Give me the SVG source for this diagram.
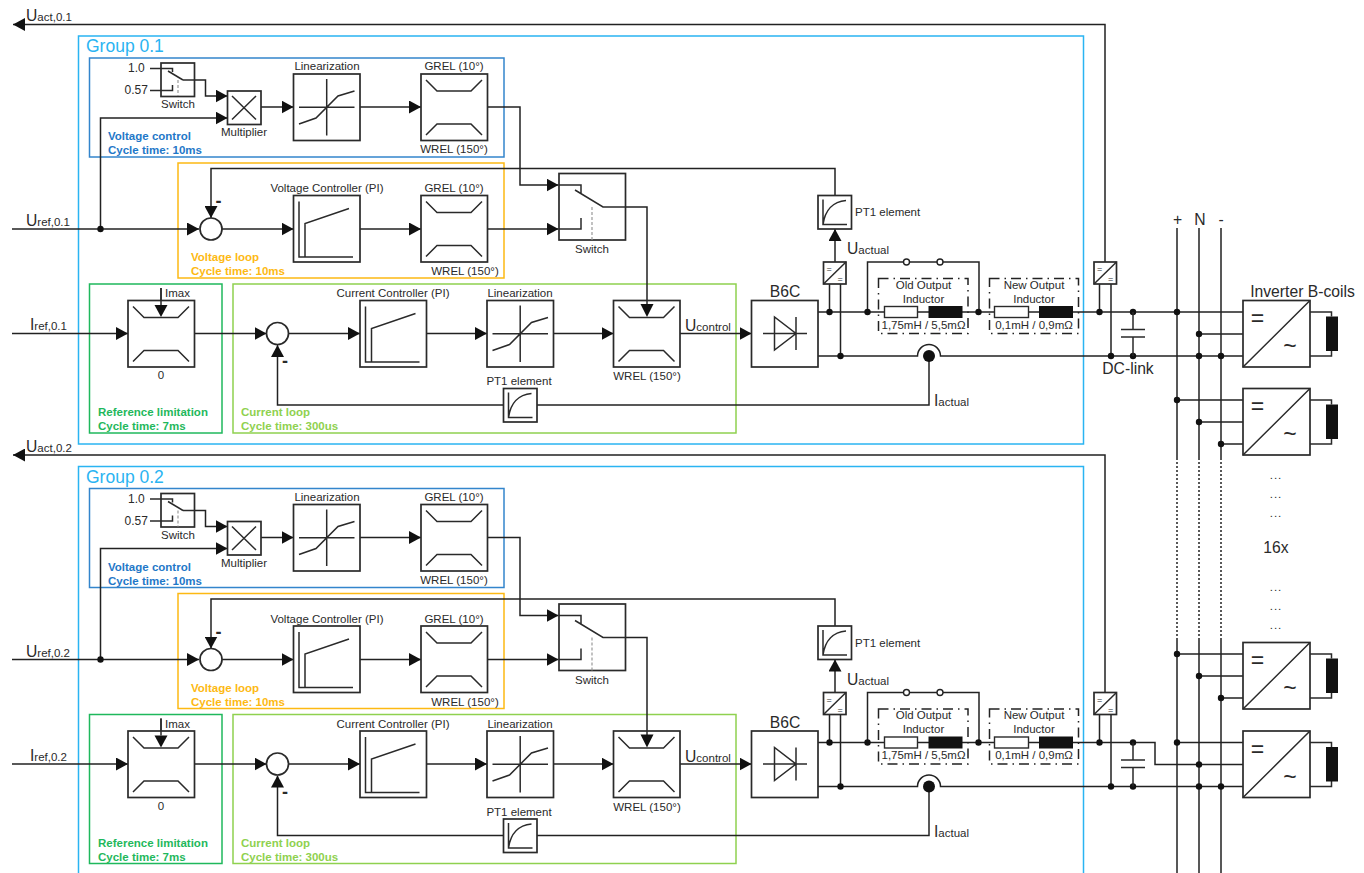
<svg xmlns="http://www.w3.org/2000/svg" width="1364" height="873" viewBox="0 0 1364 873">
<style>
text{font-family:"Liberation Sans",Arial,sans-serif;fill:#2a2a2a;font-size:11.5px}
.m{text-anchor:middle}
.s15{font-size:15.7px}
.s12{font-size:12px}
.sub{font-size:11.5px}
.grp{font-size:17.5px;fill:#2ab4f2}
.minus{font-weight:bold;font-size:18px}
.box{fill:#fff;stroke:#2a2a2a;stroke-width:1.7}
.ln{fill:none;stroke:#2a2a2a;stroke-width:1.5}
.frame{fill:none;stroke-width:1.5}
.w{fill:none;stroke:#222;stroke-width:1.5}
.a{marker-end:url(#arrow)}
.dot{fill:#111;stroke:none}
.open{fill:#fff;stroke:#222;stroke-width:1.4}
.dd{fill:none;stroke:#222;stroke-width:1.5;stroke-dasharray:10 5 1.5 5}
.gd{fill:none;stroke:#999;stroke-width:1.2;stroke-dasharray:3 2}
.vc{fill:#1f78c8;font-weight:bold}
.vl{fill:#fdb913;font-weight:bold}
.rl{fill:#1fb85c;font-weight:bold}
.cl{fill:#8fd14f;font-weight:bold}
.el{letter-spacing:1px}
</style>
<defs>
<marker id="arrow" markerUnits="userSpaceOnUse" markerWidth="12" markerHeight="13" refX="12" refY="6.5" orient="auto" viewBox="0 0 12 13"><path d="M0,0 L12,6.5 L0,13 Z" fill="#111"/></marker>
<g id="i-lim"><rect class="box" width="66.5" height="66.5"/><path class="ln" d="M5,6 L16,17 H50 L61,6 M5,61 L16,50 H50 L61,61"/></g>
<g id="i-lin"><rect class="box" width="66.5" height="66.5"/><path class="ln" d="M5.5,33.2 H61 M33.2,5 V61.5 M5.5,50 L22.5,44 L44.5,22 L61,17"/></g>
<g id="i-pi"><rect class="box" width="66.5" height="66.5"/><path class="ln" d="M5.5,6 V61.5 H59.5 M11.5,61.5 V28 L55.5,13"/></g>
<g id="i-pt1"><rect class="box" width="33.5" height="33.5"/><path class="ln" d="M5,4 V29 H29 M5,29 C7,15 15,6 28,5"/></g>
<g id="i-conv"><rect class="box" width="22.5" height="22"/><path class="ln" d="M0,22 L22.5,0"/><text x="3" y="10" style="font-size:9px">=</text><text x="14" y="20" style="font-size:9px">=</text></g>
<g id="i-inv"><rect class="box" width="67" height="66.5"/><path class="ln" d="M0,66.5 L67,0 M67,11.5 H88.5 V16 M88.5,50 V55.5 H67"/><rect x="83" y="16" width="12" height="34.5" fill="#111"/><text x="14.5" y="25.5" class="m" style="font-size:23px">=</text><text x="47" y="53.500" class="m" style="font-size:23px">~</text></g>
<g id="i-sw1"><rect class="box" width="33.5" height="33.5"/><path class="ln" d="M7,8 L22,17"/><path class="gd" d="M17,17 V33"/></g>
</defs>
<rect width="1364" height="873" fill="#fff"/>
<g id="frames">
<g id="group-0-1"><rect class="frame" x="78.5" y="36" width="1005" height="408" stroke="#2ab4f2"/><text class="grp" x="86" y="52">Group 0.1</text></g>
<g id="group-0-2"><rect class="frame" x="78.5" y="466.5" width="1005" height="408" stroke="#2ab4f2"/><text class="grp" x="86" y="482.5">Group 0.2</text></g>
<rect class="frame" x="89.5" y="58" width="414.5" height="99" stroke="#3385cc"/>
<rect class="frame" x="178" y="163" width="326" height="115" stroke="#fdb913"/>
<rect class="frame" x="89.5" y="284" width="132.5" height="149" stroke="#1fb85c"/>
<rect class="frame" x="233" y="284" width="503" height="149" stroke="#8fd14f"/>
<rect class="frame" x="89.5" y="488.500" width="414.5" height="99" stroke="#3385cc"/>
<rect class="frame" x="178" y="593.5" width="326" height="115" stroke="#fdb913"/>
<rect class="frame" x="89.5" y="714.5" width="132.5" height="149" stroke="#1fb85c"/>
<rect class="frame" x="233" y="714.5" width="503" height="149" stroke="#8fd14f"/>
<text class="vc" x="108" y="140">Voltage control</text><text class="vc" x="108" y="154">Cycle time: 10ms</text>
<text class="vl" x="191" y="261">Voltage loop</text><text class="vl" x="191" y="275">Cycle time: 10ms</text>
<text class="rl" x="98" y="416">Reference limitation</text><text class="rl" x="98" y="430">Cycle time: 7ms</text>
<text class="cl" x="241" y="416">Current loop</text><text class="cl" x="241" y="430">Cycle time: 300us</text>
<text class="vc" x="108" y="570.5">Voltage control</text><text class="vc" x="108" y="584.5">Cycle time: 10ms</text>
<text class="vl" x="191" y="691.5">Voltage loop</text><text class="vl" x="191" y="705.5">Cycle time: 10ms</text>
<text class="rl" x="98" y="846.5">Reference limitation</text><text class="rl" x="98" y="860.5">Cycle time: 7ms</text>
<text class="cl" x="241" y="846.5">Current loop</text><text class="cl" x="241" y="860.5">Cycle time: 300us</text>
</g>
<g id="connectors">
<g id="wires-0-1">
<path class="w a" d="M1105,262 V24.5 H13"/>
<path class="w a" d="M12,229 H199"/>
<path class="w a" d="M100.500,229 V118 H227.500"/>
<path class="w a" d="M183,80 H205.500 V96 H227.500"/>
<path class="w a" d="M261,107 H293.500"/>
<path class="w a" d="M360,107 H421"/>
<path class="w a" d="M487.500,107 H520 V185 H558.500"/>
<path class="w a" d="M835,195.500 V168.500 H211 V218"/>
<path class="w a" d="M222,229 H293.500"/>
<path class="w a" d="M360,229 H421"/>
<path class="w a" d="M487.500,229 H558.500"/>
<path class="w a" d="M603,207 H647 V317"/>
<path class="w a" d="M12,333.500 H128"/>
<path class="w a" d="M161,288 V317"/>
<path class="w a" d="M194.500,333.500 H266.500"/>
<path class="w a" d="M288.500,333.500 H360"/>
<path class="w a" d="M426.500,333.500 H487"/>
<path class="w a" d="M553.500,333.500 H613.500"/>
<path class="w a" d="M680,333.500 H751.500"/>
<path class="w a" d="M504,405 H277.500 V345"/>
<path class="w" d="M537,405 H929 V356"/>
<path class="w a" d="M835,262 V229"/>
<path class="w" d="M829.500,284 V312 M840.500,284 V356 M1099.500,284 V312 M1111,284 V356"/>
<path class="w" d="M818,312 H1243 M1199,334 H1243"/>
<path class="w" d="M867.500,312 V262 H979 V312"/>
<path class="w" d="M818,356 H917.500 A11.500,11.500 0 0 1 940.500,356 H1243"/>
</g>
<g id="wires-0-2" transform="translate(0,430.5)">
<path class="w a" d="M1105,262 V24.5 H13"/>
<path class="w a" d="M12,229 H199"/>
<path class="w a" d="M100.500,229 V118 H227.500"/>
<path class="w a" d="M183,80 H205.500 V96 H227.500"/>
<path class="w a" d="M261,107 H293.500"/>
<path class="w a" d="M360,107 H421"/>
<path class="w a" d="M487.500,107 H520 V185 H558.500"/>
<path class="w a" d="M835,195.500 V168.500 H211 V218"/>
<path class="w a" d="M222,229 H293.500"/>
<path class="w a" d="M360,229 H421"/>
<path class="w a" d="M487.500,229 H558.500"/>
<path class="w a" d="M603,207 H647 V317"/>
<path class="w a" d="M12,333.500 H128"/>
<path class="w a" d="M161,288 V317"/>
<path class="w a" d="M194.500,333.500 H266.500"/>
<path class="w a" d="M288.500,333.500 H360"/>
<path class="w a" d="M426.500,333.500 H487"/>
<path class="w a" d="M553.500,333.500 H613.500"/>
<path class="w a" d="M680,333.500 H751.500"/>
<path class="w a" d="M504,405 H277.500 V345"/>
<path class="w" d="M537,405 H929 V356"/>
<path class="w a" d="M835,262 V229"/>
<path class="w" d="M829.500,284 V312 M840.500,284 V356 M1099.500,284 V312 M1111,284 V356"/>
<path class="w" d="M818,312 H1155 V334 H1243 M1177,312 H1243"/>
<path class="w" d="M867.500,312 V262 H979 V312"/>
<path class="w" d="M818,356 H917.500 A11.500,11.500 0 0 1 940.500,356 H1243"/>
</g>
<g id="bus">
<path class="w" d="M1177,228 V458 M1199,228 V458 M1221,228 V458 M1177,640 V873 M1199,640 V873 M1221,640 V873"/>
<path class="w" style="stroke-dasharray:2 2" d="M1177,458 V640 M1199,458 V640 M1221,458 V640"/>
<path class="w" d="M1177,400 H1243 M1199,422 H1243 M1221,444 H1243 M1177,654 H1243 M1199,676 H1243 M1221,698 H1243"/>
</g>
<g id="junctions">
<circle class="dot" cx="100.500" cy="229" r="3.200"/><circle class="dot" cx="829.500" cy="312" r="3.200"/><circle class="dot" cx="840.500" cy="356" r="3.200"/><circle class="dot" cx="867.500" cy="312" r="3.200"/><circle class="dot" cx="978.500" cy="312" r="3.200"/><circle class="dot" cx="1099.500" cy="312" r="3.200"/><circle class="dot" cx="1111" cy="356" r="3.200"/><circle class="dot" cx="1133" cy="312" r="3.200"/><circle class="dot" cx="1133" cy="356" r="3.200"/><circle class="dot" cx="1177" cy="312" r="3.200"/><circle class="dot" cx="1199" cy="334" r="3.200"/><circle class="dot" cx="1199" cy="356" r="3.200"/><circle class="dot" cx="1221" cy="356" r="3.200"/><circle class="dot" cx="1177" cy="400" r="3.200"/><circle class="dot" cx="1199" cy="422" r="3.200"/><circle class="dot" cx="1221" cy="444" r="3.200"/>
<circle class="dot" cx="1177" cy="654" r="3.200"/><circle class="dot" cx="1199" cy="676" r="3.200"/><circle class="dot" cx="1221" cy="698" r="3.200"/>
<circle class="dot" cx="100.500" cy="659.5" r="3.200"/><circle class="dot" cx="829.500" cy="742.5" r="3.200"/><circle class="dot" cx="840.500" cy="786.5" r="3.200"/><circle class="dot" cx="867.500" cy="742.5" r="3.200"/><circle class="dot" cx="978.500" cy="742.5" r="3.200"/><circle class="dot" cx="1099.500" cy="742.5" r="3.200"/><circle class="dot" cx="1111" cy="786.5" r="3.200"/><circle class="dot" cx="1133" cy="742.5" r="3.200"/><circle class="dot" cx="1133" cy="786.5" r="3.200"/><circle class="dot" cx="1177" cy="742.5" r="3.200"/><circle class="dot" cx="1199" cy="764.5" r="3.200"/><circle class="dot" cx="1199" cy="786.5" r="3.200"/><circle class="dot" cx="1221" cy="786.5" r="3.200"/>
<circle class="open" cx="906.500" cy="262" r="3"/><circle class="open" cx="940" cy="262" r="3"/><circle class="open" cx="906.500" cy="692.5" r="3"/><circle class="open" cx="940" cy="692.5" r="3"/>
<circle class="dot" cx="929" cy="356" r="6"/><circle class="dot" cx="929" cy="786.5" r="6"/>
</g>
</g>

<g id="labels-signals">
<text class="s15" x="26" y="21">U<tspan class="sub">act,0.1</tspan></text>
<text class="s15" x="26" y="226">U<tspan class="sub">ref,0.1</tspan></text>
<text class="s15" x="30" y="330">I<tspan class="sub">ref,0.1</tspan></text>
<text class="s15" x="685" y="331">U<tspan class="sub">control</tspan></text>
<text class="s15" x="847" y="254">U<tspan class="sub">actual</tspan></text>
<text class="s15" x="934" y="406">I<tspan class="sub">actual</tspan></text>
<text class="s15" x="26" y="451.5">U<tspan class="sub">act,0.2</tspan></text>
<text class="s15" x="26" y="656.5">U<tspan class="sub">ref,0.2</tspan></text>
<text class="s15" x="30" y="760.5">I<tspan class="sub">ref,0.2</tspan></text>
<text class="s15" x="685" y="761.5">U<tspan class="sub">control</tspan></text>
<text class="s15" x="847" y="684.5">U<tspan class="sub">actual</tspan></text>
<text class="s15" x="934" y="836.500">I<tspan class="sub">actual</tspan></text>
<text class="minus" x="215.500" y="207">-</text><text class="minus" x="282" y="367">-</text>
<text class="minus" x="215.500" y="637.5">-</text><text class="minus" x="282" y="797.5">-</text>
</g>

<g id="g1-constants"><text class="s12" x="128" y="72">1.0</text><text class="s12" x="124.500" y="94">0.57</text></g>
<g id="g1-switch1"><use href="#i-sw1" x="161" y="63"/><path class="ln" d="M150,68.500 H172.500 V72 M150,90.500 H172.500 V85 M183,80 H194.500"/><text class="m" x="178" y="108">Switch</text></g>
<g id="g1-mult"><rect class="box" x="227.500" y="91" width="33.500" height="33.500"/><path class="ln" d="M232,96 L256,119.500 M256,96 L232,119.500"/><text class="m" x="244" y="136">Multiplier</text></g>
<g id="g1-lin1"><use href="#i-lin" x="293.500" y="74"/><text class="m" x="327" y="70">Linearization</text></g>
<g id="g1-grel1"><use href="#i-lim" x="421" y="74"/><text class="m" x="454" y="70">GREL (10°)</text><text class="m" x="454" y="153">WREL (150°)</text></g>
<g id="g1-sum1"><circle class="box" cx="211" cy="229" r="11"/></g>
<g id="g1-vc"><use href="#i-pi" x="293.500" y="195.500"/><text class="m" x="327" y="192">Voltage Controller (PI)</text></g>
<g id="g1-grel2"><use href="#i-lim" x="421" y="195.500"/><text class="m" x="454" y="192">GREL (10°)</text><text class="m" x="465" y="275">WREL (150°)</text></g>
<g id="g1-switch2"><rect class="box" x="559" y="173.500" width="66.500" height="66.500"/><path class="ln" d="M559,185 H581 V193 M559,229 H581 V218 M575,190 L603,207 H625.500"/><path class="gd" d="M592,207 V240"/><text class="m" x="592" y="253">Switch</text></g>
<g id="g1-limit"><use href="#i-lim" x="128" y="300.500"/><path class="ln" d="M161,288 V305"/><polygon points="154.500,305 167.500,305 161,317" fill="#111"/><text x="165" y="297">Imax</text><text class="m" x="161" y="379">0</text></g>
<g id="g1-sum2"><circle class="box" cx="277.500" cy="333.500" r="11"/></g>
<g id="g1-cc"><use href="#i-pi" x="360" y="300.500"/><text class="m" x="393" y="297">Current Controller (PI)</text></g>
<g id="g1-lin2"><use href="#i-lin" x="487" y="300.500"/><text class="m" x="520" y="297">Linearization</text></g>
<g id="g1-wrel"><use href="#i-lim" x="613.500" y="300.500"/><path class="ln" d="M647,300.500 V305"/><polygon points="640.500,304 653.500,304 647,317" fill="#111"/><text class="m" x="647" y="380">WREL (150°)</text></g>
<g id="g1-b6c"><rect class="box" x="751.500" y="300.500" width="66.500" height="66.500"/><path class="ln" d="M763,333.500 H807 M774.500,317 V350 L796,333.500 Z M796,317 V350"/><text class="m s15" x="785" y="297">B6C</text></g>
<g id="g1-pt1-i"><use href="#i-pt1" x="503.500" y="388.500"/><text class="m" x="519" y="385">PT1 element</text></g>
<g id="g1-pt1-u"><use href="#i-pt1" x="818" y="195.500"/><text x="855" y="216">PT1 element</text></g>
<g id="g1-conv1"><use href="#i-conv" x="823.500" y="262"/></g>
<g id="g1-old"><rect class="dd" x="878.500" y="278.500" width="89.500" height="55"/><rect class="box" style="stroke-width:1.4" x="884.500" y="306.500" width="33" height="11"/><rect x="928.500" y="306" width="34" height="12" fill="#111"/><text class="m" x="923.500" y="288.500">Old Output</text><text class="m" x="923.500" y="302.500">Inductor</text><text class="m" x="923.500" y="328.500">1,75mH / 5,5mΩ</text></g>
<g id="g1-new"><rect class="dd" x="989.500" y="278.500" width="89" height="55"/><rect class="box" style="stroke-width:1.4" x="994.500" y="306.500" width="34" height="11"/><rect x="1039" y="306" width="34" height="12" fill="#111"/><text class="m" x="1034" y="288.500">New Output</text><text class="m" x="1034" y="302.500">Inductor</text><text class="m" x="1034" y="328.500">0,1mH / 0,9mΩ</text></g>
<g id="g1-conv2"><use href="#i-conv" x="1094" y="262"/></g>
<g id="g1-cap"><path class="ln" d="M1133,312 V329.500 M1121,329.500 H1145 M1121,337 H1145 M1133,337 V356"/><text class="m s15" x="1128" y="374">DC-link</text></g>

<g id="g2-constants"><text class="s12" x="128" y="502.5">1.0</text><text class="s12" x="124.500" y="524.5">0.57</text></g>
<g id="g2-switch1"><use href="#i-sw1" x="161" y="493.5"/><path class="ln" d="M150,499 H172.500 V502.5 M150,521 H172.500 V515.5 M183,510.5 H194.500"/><text class="m" x="178" y="538.5">Switch</text></g>
<g id="g2-mult"><rect class="box" x="227.500" y="521.5" width="33.500" height="33.500"/><path class="ln" d="M232,526.5 L256,550 M256,526.5 L232,550"/><text class="m" x="244" y="566.5">Multiplier</text></g>
<g id="g2-lin1"><use href="#i-lin" x="293.500" y="504.5"/><text class="m" x="327" y="500.5">Linearization</text></g>
<g id="g2-grel1"><use href="#i-lim" x="421" y="504.5"/><text class="m" x="454" y="500.5">GREL (10°)</text><text class="m" x="454" y="583.5">WREL (150°)</text></g>
<g id="g2-sum1"><circle class="box" cx="211" cy="659.5" r="11"/></g>
<g id="g2-vc"><use href="#i-pi" x="293.500" y="626"/><text class="m" x="327" y="622.5">Voltage Controller (PI)</text></g>
<g id="g2-grel2"><use href="#i-lim" x="421" y="626"/><text class="m" x="454" y="622.5">GREL (10°)</text><text class="m" x="465" y="705.5">WREL (150°)</text></g>
<g id="g2-switch2"><rect class="box" x="559" y="604" width="66.500" height="66.500"/><path class="ln" d="M559,615.5 H581 V623.5 M559,659.5 H581 V648.5 M575,620.5 L603,637.5 H625.500"/><path class="gd" d="M592,637.5 V670.5"/><text class="m" x="592" y="683.5">Switch</text></g>
<g id="g2-limit"><use href="#i-lim" x="128" y="731"/><path class="ln" d="M161,718.5 V735.5"/><polygon points="154.500,735.5 167.500,735.5 161,747.5" fill="#111"/><text x="165" y="727.5">Imax</text><text class="m" x="161" y="809.5">0</text></g>
<g id="g2-sum2"><circle class="box" cx="277.500" cy="764" r="11"/></g>
<g id="g2-cc"><use href="#i-pi" x="360" y="731"/><text class="m" x="393" y="727.5">Current Controller (PI)</text></g>
<g id="g2-lin2"><use href="#i-lin" x="487" y="731"/><text class="m" x="520" y="727.5">Linearization</text></g>
<g id="g2-wrel"><use href="#i-lim" x="613.500" y="731"/><path class="ln" d="M647,731 V735.5"/><polygon points="640.500,734.5 653.500,734.5 647,747.5" fill="#111"/><text class="m" x="647" y="810.5">WREL (150°)</text></g>
<g id="g2-b6c"><rect class="box" x="751.500" y="731" width="66.500" height="66.500"/><path class="ln" d="M763,764 H807 M774.500,747.5 V780.5 L796,764 Z M796,747.5 V780.500"/><text class="m s15" x="785" y="727.5">B6C</text></g>
<g id="g2-pt1-i"><use href="#i-pt1" x="503.500" y="819"/><text class="m" x="519" y="815.5">PT1 element</text></g>
<g id="g2-pt1-u"><use href="#i-pt1" x="818" y="626"/><text x="855" y="646.5">PT1 element</text></g>
<g id="g2-conv1"><use href="#i-conv" x="823.500" y="692.5"/></g>
<g id="g2-old"><rect class="dd" x="878.500" y="709" width="89.500" height="55"/><rect class="box" style="stroke-width:1.4" x="884.500" y="737" width="33" height="11"/><rect x="928.500" y="736.5" width="34" height="12" fill="#111"/><text class="m" x="923.500" y="719">Old Output</text><text class="m" x="923.500" y="733">Inductor</text><text class="m" x="923.500" y="759">1,75mH / 5,5mΩ</text></g>
<g id="g2-new"><rect class="dd" x="989.500" y="709" width="89" height="55"/><rect class="box" style="stroke-width:1.4" x="994.500" y="737" width="34" height="11"/><rect x="1039" y="736.5" width="34" height="12" fill="#111"/><text class="m" x="1034" y="719">New Output</text><text class="m" x="1034" y="733">Inductor</text><text class="m" x="1034" y="759">0,1mH / 0,9mΩ</text></g>
<g id="g2-conv2"><use href="#i-conv" x="1094" y="692.5"/></g>
<g id="g2-cap"><path class="ln" d="M1133,742.5 V760 M1121,760 H1145 M1121,767.5 H1145 M1133,767.5 V786.5"/></g>

<g id="bus-labels"><text class="m s15" x="1177.500" y="225">+</text><text class="m s15" x="1200" y="225">N</text><text class="m s15" x="1221" y="225">-</text></g>
<g id="inverter-1"><use href="#i-inv" x="1243" y="300.500"/><text class="m s15" x="1302.500" y="297">Inverter B-coils</text></g>
<g id="inverter-2"><use href="#i-inv" x="1243" y="388.500"/></g>
<g id="inverter-3"><use href="#i-inv" x="1243" y="642.500"/></g>
<g id="inverter-4"><use href="#i-inv" x="1243" y="731"/></g>
<g id="ellipsis">
<text class="m el" x="1276" y="479">...</text><text class="m el" x="1276" y="498">...</text><text class="m el" x="1276" y="517">...</text>
<text class="m s15" x="1276" y="553">16x</text>
<text class="m el" x="1276" y="591">...</text><text class="m el" x="1276" y="610">...</text><text class="m el" x="1276" y="629">...</text>
</g>
</svg>
